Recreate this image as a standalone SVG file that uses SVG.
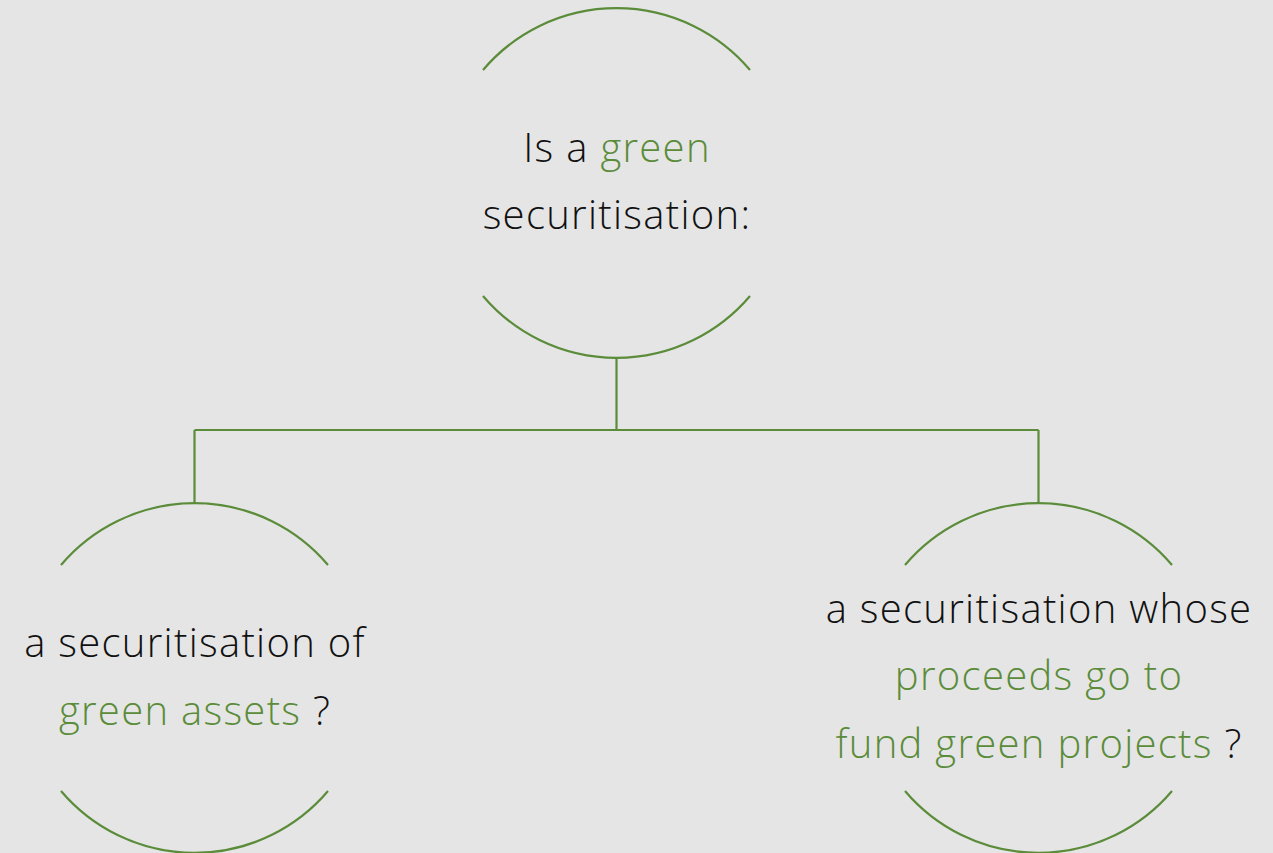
<svg xmlns="http://www.w3.org/2000/svg" width="1273" height="853" viewBox="0 0 1273 853">
<style>
.arc{fill:none;stroke:#5b8c3a;stroke-width:2.2;}
.con{fill:none;stroke:#5b8c3a;stroke-width:2.2;}
text{font-family:"Open Sans","Noto Sans",sans-serif;font-weight:300;font-size:40px;letter-spacing:1.3px;fill:#111;text-anchor:middle;}
.g{fill:#5b8c3a;}
</style>
<rect width="1273" height="853" fill="#e5e5e5"/>
<g id="connectors">
<path class="con" d="M616.5 358 V430 M194.5 430 H1038.5 M194.5 430 V503 M1038.5 430 V503"/>
</g>
<g id="node-top">
<path class="arc" d="M483 70 A175 175 0 0 1 750 70"/>
<path class="arc" d="M483 296 A175 175 0 0 0 750 296"/>
<text x="617" y="162">Is a <tspan class="g">green</tspan></text>
<text x="617" y="229">securitisation:</text>
</g>
<g id="node-left">
<path class="arc" d="M61 565 A175 175 0 0 1 328 565"/>
<path class="arc" d="M61 791 A175 175 0 0 0 328 791"/>
<text x="195" y="657">a securitisation of</text>
<text x="195" y="725"><tspan class="g">green assets</tspan> ?</text>
</g>
<g id="node-right">
<path class="arc" d="M905 565 A175 175 0 0 1 1172 565"/>
<path class="arc" d="M905 791 A175 175 0 0 0 1172 791"/>
<text x="1039" y="623">a securitisation whose</text>
<text x="1039" y="690" class="g">proceeds go to</text>
<text x="1039" y="758"><tspan class="g">fund green projects</tspan> ?</text>
</g>
</svg>
